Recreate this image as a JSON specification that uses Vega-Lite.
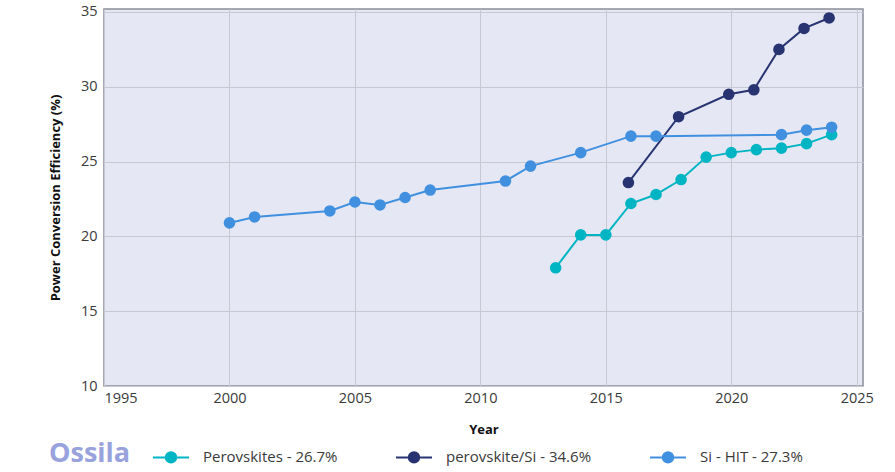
{
  "$schema": "https://vega.github.io/schema/vega-lite/v6.json",
  "width": 759,
  "height": 377,
  "autosize": {"type": "none"},
  "padding": {"left": 104, "top": 9, "right": 32, "bottom": 86},
  "background": "white",
  "config": {
    "font": "Open Sans",
    "view": {"fill": "#e5e8f4", "stroke": "#8c8c96", "strokeWidth": 1.5},
    "axis": {
      "labelFont": "Open Sans", "labelFontSize": 14.5, "labelColor": "#3a3a3a",
      "titleFont": "Open Sans", "titleFontSize": 13, "titleFontWeight": "bold", "titleColor": "#111",
      "gridColor": "#c6c8d2", "gridWidth": 1, "domain": false, "ticks": false
    },
    "legend": {"labelFont": "Open Sans", "labelFontSize": 15, "labelColor": "#3a3a3a"}
  },
  "title": {
    "text": "Ossila", "orient": "bottom", "anchor": "start", "frame": "group",
    "font": "Open Sans", "fontSize": 27, "fontWeight": "bold", "color": "#98a2dc",
    "dx": -55, "dy": -30
  },
  "data": {
    "values": [
      {"series": "Perovskites - 26.7%", "year": 2013, "pce": 17.9},
      {"series": "Perovskites - 26.7%", "year": 2014, "pce": 20.1},
      {"series": "Perovskites - 26.7%", "year": 2015, "pce": 20.1},
      {"series": "Perovskites - 26.7%", "year": 2016, "pce": 22.2},
      {"series": "Perovskites - 26.7%", "year": 2017, "pce": 22.8},
      {"series": "Perovskites - 26.7%", "year": 2018, "pce": 23.8},
      {"series": "Perovskites - 26.7%", "year": 2019, "pce": 25.3},
      {"series": "Perovskites - 26.7%", "year": 2020, "pce": 25.6},
      {"series": "Perovskites - 26.7%", "year": 2021, "pce": 25.8},
      {"series": "Perovskites - 26.7%", "year": 2022, "pce": 25.9},
      {"series": "Perovskites - 26.7%", "year": 2023, "pce": 26.2},
      {"series": "Perovskites - 26.7%", "year": 2024, "pce": 26.8},
      {"series": "perovskite/Si - 34.6%", "year": 2015.9, "pce": 23.6},
      {"series": "perovskite/Si - 34.6%", "year": 2017.9, "pce": 28.0},
      {"series": "perovskite/Si - 34.6%", "year": 2019.9, "pce": 29.5},
      {"series": "perovskite/Si - 34.6%", "year": 2020.9, "pce": 29.8},
      {"series": "perovskite/Si - 34.6%", "year": 2021.9, "pce": 32.5},
      {"series": "perovskite/Si - 34.6%", "year": 2022.9, "pce": 33.9},
      {"series": "perovskite/Si - 34.6%", "year": 2023.9, "pce": 34.6},
      {"series": "Si - HIT - 27.3%", "year": 2000, "pce": 20.9},
      {"series": "Si - HIT - 27.3%", "year": 2001, "pce": 21.3},
      {"series": "Si - HIT - 27.3%", "year": 2004, "pce": 21.7},
      {"series": "Si - HIT - 27.3%", "year": 2005, "pce": 22.3},
      {"series": "Si - HIT - 27.3%", "year": 2006, "pce": 22.1},
      {"series": "Si - HIT - 27.3%", "year": 2007, "pce": 22.6},
      {"series": "Si - HIT - 27.3%", "year": 2008, "pce": 23.1},
      {"series": "Si - HIT - 27.3%", "year": 2011, "pce": 23.7},
      {"series": "Si - HIT - 27.3%", "year": 2012, "pce": 24.7},
      {"series": "Si - HIT - 27.3%", "year": 2014, "pce": 25.6},
      {"series": "Si - HIT - 27.3%", "year": 2016, "pce": 26.7},
      {"series": "Si - HIT - 27.3%", "year": 2017, "pce": 26.7},
      {"series": "Si - HIT - 27.3%", "year": 2022, "pce": 26.8},
      {"series": "Si - HIT - 27.3%", "year": 2023, "pce": 27.1},
      {"series": "Si - HIT - 27.3%", "year": 2024, "pce": 27.3}
    ]
  },
  "encoding": {
    "x": {
      "field": "year", "type": "quantitative", "title": "Year",
      "scale": {"domain": [1995, 2025.25], "nice": false, "zero": false},
      "axis": {"values": [1995, 2000, 2005, 2010, 2015, 2020, 2025], "format": "d", "labelPadding": 5, "titlePadding": 19}
    },
    "y": {
      "field": "pce", "type": "quantitative", "title": "Power Conversion Efficiency (%)",
      "scale": {"domain": [10, 35.2], "nice": false, "zero": false},
      "axis": {"values": [10, 15, 20, 25, 30, 35], "labelPadding": 7, "titlePadding": 18}
    },
    "color": {
      "field": "series", "type": "nominal",
      "scale": {
        "domain": ["Perovskites - 26.7%", "perovskite/Si - 34.6%", "Si - HIT - 27.3%"],
        "range": ["#00b5c3", "#283472", "#4190e0"]
      },
      "legend": {
        "title": null, "orient": "none", "direction": "horizontal", "columns": 3,
        "legendX": 48, "legendY": 429, "padding": 0,
        "symbolType": "M-1,0L1,0M0.29,0A0.29,0.29,0,1,1,-0.29,0A0.29,0.29,0,1,1,0.29,0Z",
        "symbolSize": 1296, "symbolStrokeWidth": 2, "labelOffset": 13, "columnPadding": 54,
        "encode": {"symbols": {"update": {"stroke": {"scale": "color", "field": "value"}, "fill": {"scale": "color", "field": "value"}, "opacity": {"value": 1}, "fillOpacity": {"value": 1}, "strokeOpacity": {"value": 1}}}}
      }
    }
  },
  "layer": [
    {
      "mark": {"type": "line", "strokeWidth": 2},
      "encoding": {"order": {"field": "year"}}
    },
    {
      "mark": {"type": "point", "filled": true, "opacity": 1, "size": 135}
    }
  ]
}
